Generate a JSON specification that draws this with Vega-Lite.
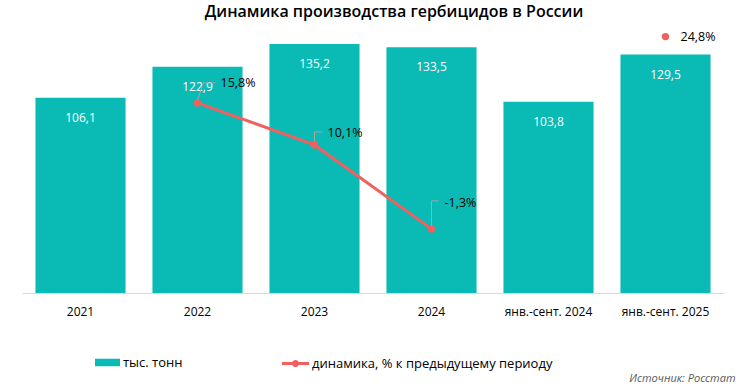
{
  "$schema": "https://vega.github.io/schema/vega-lite/v6.json",
  "width": 702,
  "height": 267,
  "autosize": {"type": "none"},
  "padding": {"left": 22, "top": 26, "right": 24, "bottom": 99},
  "title": {"text": "Динамика  производства  гербицидов  в  России", "anchor": "middle", "frame": "group", "dx": 21, "offset": 6, "font": "Open Sans", "fontSize": 16, "fontWeight": 600, "color": "#000000"},
  "config": {
    "view": {"stroke": null},
    "font": "Open Sans",
    "locale": {"number": {"decimal": ",", "thousands": " ", "grouping": [3], "currency": ["", " ₽"], "minus": "-"}}
  },
  "data": {"values": [
    {"cat": "2021", "tons": 106.1, "dyn": null, "type": "год"},
    {"cat": "2022", "tons": 122.9, "dyn": 0.158, "type": "год"},
    {"cat": "2023", "tons": 135.2, "dyn": 0.101, "type": "год"},
    {"cat": "2024", "tons": 133.5, "dyn": -0.013, "type": "год"},
    {"cat": "янв.-сент. 2024", "tons": 103.8, "dyn": null, "type": "9 мес"},
    {"cat": "янв.-сент. 2025", "tons": 129.5, "dyn": 0.248, "type": "9 мес"}
  ]},
  "encoding": {
    "x": {"field": "cat", "type": "nominal", "sort": null,
      "scale": {"paddingInner": 0.23, "paddingOuter": 0.115},
      "axis": {"title": "Источник: Росстат", "titleX": 713, "titleY": 85, "titleAlign": "right", "titleAnchor": null, "titleBaseline": "middle", "titleFontStyle": "italic", "titleFontWeight": "normal", "titleFontSize": 11, "titleColor": "#595959", "titleFont": "Open Sans",
        "labelAngle": 0, "labelFontSize": 12, "labelColor": "#000000", "labelPadding": 13, "ticks": false, "domainColor": "#d9d9d9", "domainWidth": 1, "grid": false, "labelFont": "Open Sans"}}
  },
  "layer": [
    {
      "encoding": {"y": {"field": "tons", "type": "quantitative", "scale": {"domain": [0, 145], "nice": false, "zero": true}, "axis": null}},
      "layer": [
        {"mark": {"type": "bar"},
         "encoding": {"fill": {"datum": "тыс. тонн", "type": "nominal", "scale": {"range": ["#0ABAB5"]},
           "legend": {"title": null, "orient": "none", "legendX": 73, "legendY": 324, "padding": 0,
             "symbolType": "M-1,-0.3H1V0.3H-1Z", "symbolSize": 625, "symbolStrokeWidth": 0, "labelFontSize": 13, "labelColor": "#000000", "labelFont": "Open Sans", "labelOffset": 3, "labelLimit": 400}}}},
        {"mark": {"type": "text", "color": "#ffffff", "fontSize": 12, "dy": 20, "baseline": "middle"},
         "encoding": {"text": {"field": "tons", "type": "quantitative", "format": ".1f"}}}
      ]
    },
    {
      "transform": [{"filter": "datum.dyn != null"}],
      "encoding": {"y": {"field": "dyn", "type": "quantitative", "scale": {"domain": [-0.1, 0.2624], "nice": false, "zero": false}, "axis": null}},
      "layer": [
        {"mark": {"type": "line", "strokeWidth": 3},
         "encoding": {"detail": {"field": "type"},
           "stroke": {"datum": "динамика, % к предыдущему периоду", "type": "nominal", "scale": {"range": ["#F0605F"]},
             "legend": {"title": null, "orient": "none", "legendX": 260, "legendY": 324, "padding": 0,
               "symbolType": "M-1,-0.11H-0.2356A0.26,0.26 0 0 1 0.2356,-0.11H1V0.11H0.2356A0.26,0.26 0 0 1 -0.2356,0.11H-1Z", "symbolSize": 729,
               "labelFontSize": 13, "labelColor": "#000000", "labelFont": "Open Sans", "labelOffset": 3, "labelLimit": 400,
               "encode": {"symbols": {"update": {"fill": {"value": "#F0605F"}, "strokeWidth": {"value": 0}}}}}}}},
        {"mark": {"type": "point", "filled": true, "size": 55, "color": "#F0605F", "opacity": 1}},
        {"transform": [{"filter": "datum.cat === '2022'"}],
         "layer": [
           {"mark": {"type": "rule", "color": "#a6a6a6", "strokeWidth": 1, "x2Offset": 6, "yOffset": -3, "y2Offset": -20}, "encoding": {"x2": {"field": "cat"}, "y2": {"field": "dyn"}}},
           {"mark": {"type": "rule", "color": "#a6a6a6", "strokeWidth": 1, "xOffset": 6, "x2Offset": 18, "yOffset": -20}, "encoding": {"x2": {"field": "cat"}}},
           {"mark": {"type": "text", "align": "left", "baseline": "middle", "dx": 23, "dy": -20, "fontSize": 12.5, "color": "#000000"}, "encoding": {"text": {"field": "dyn", "type": "quantitative", "format": ".1%"}}}
         ]},
        {"transform": [{"filter": "datum.cat === '2023'"}],
         "layer": [
           {"mark": {"type": "rule", "color": "#a6a6a6", "strokeWidth": 1, "yOffset": -3, "y2Offset": -13}, "encoding": {"y2": {"field": "dyn"}}},
           {"mark": {"type": "rule", "color": "#a6a6a6", "strokeWidth": 1, "x2Offset": 8, "yOffset": -13}, "encoding": {"x2": {"field": "cat"}}},
           {"mark": {"type": "text", "align": "left", "baseline": "middle", "dx": 13, "dy": -12, "fontSize": 12.5, "color": "#000000"}, "encoding": {"text": {"field": "dyn", "type": "quantitative", "format": ".1%"}}}
         ]},
        {"transform": [{"filter": "datum.cat === '2024'"}],
         "layer": [
           {"mark": {"type": "rule", "color": "#a6a6a6", "strokeWidth": 1, "yOffset": -3, "y2Offset": -28}, "encoding": {"y2": {"field": "dyn"}}},
           {"mark": {"type": "rule", "color": "#a6a6a6", "strokeWidth": 1, "x2Offset": 7, "yOffset": -28}, "encoding": {"x2": {"field": "cat"}}},
           {"mark": {"type": "text", "align": "left", "baseline": "middle", "dx": 13, "dy": -26, "fontSize": 12.5, "color": "#000000"}, "encoding": {"text": {"field": "dyn", "type": "quantitative", "format": ".1%"}}}
         ]},
        {"transform": [{"filter": "datum.cat === 'янв.-сент. 2025'"}],
         "mark": {"type": "text", "align": "left", "baseline": "middle", "dx": 15, "fontSize": 12.5, "color": "#000000"},
         "encoding": {"text": {"field": "dyn", "type": "quantitative", "format": ".1%"}}}
      ]
    }
  ],
  "resolve": {"scale": {"y": "independent"}}
}
